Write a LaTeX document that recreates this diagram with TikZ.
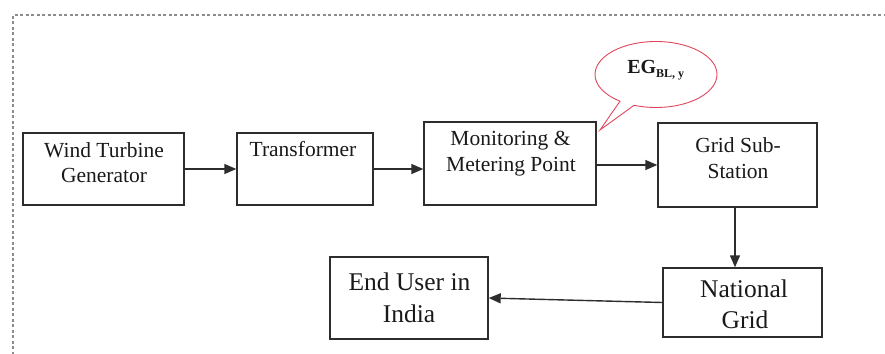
\documentclass[tikz,border=0pt]{standalone}
\usepackage{fontspec}
\setmainfont{Liberation Serif}
\newfontfamily\tnr{Liberation Serif}
\usetikzlibrary{arrows.meta,shapes.callouts}
\definecolor{boxline}{RGB}{45,45,45}
\definecolor{txt}{RGB}{25,25,25}
\definecolor{dashgray}{RGB}{140,140,140}
\definecolor{calloutred}{RGB}{225,70,90}
\tikzset{
  box/.style={draw=boxline, line width=1.4pt, fill=none, inner sep=0pt},
  lbl/.style={anchor=base, inner sep=0pt, text=txt, font=\tnr\fontsize{21.5}{25}\selectfont},
  biglbl/.style={anchor=base, inner sep=0pt, text=txt, font=\tnr\fontsize{25.5}{30}\selectfont},
  flow/.style={draw=boxline, line width=1.4pt, -{Triangle[length=12pt,width=10pt]}},
  border/.style={draw=dashgray, line width=1.1pt, dash pattern=on 3pt off 2.5pt}
}
\begin{document}
\begin{tikzpicture}[x=1pt,y=-1pt]
\useasboundingbox (0,0) rectangle (885,353);
\begin{scope}
\clip (0,0) rectangle (885,353);
\coordinate (bl) at (13,360);
\coordinate (tl) at (13,15);
\coordinate (tr0) at (890,15);
\draw[border] (bl) -- (tl) -- (tr0);
\end{scope}

% boxes
\node[box, minimum width=161pt, minimum height=72pt] (wtg) at (103.5,169) {};
\node[box, minimum width=136pt, minimum height=72pt] (tr) at (305,169) {};
\node[box, minimum width=172pt, minimum height=83pt] (mm) at (510,163.5) {};
\node[box, minimum width=159pt, minimum height=84pt] (gss) at (737.5,165) {};
\node[box, minimum width=158pt, minimum height=82pt] (eu) at (409,298) {};
\node[box, minimum width=159pt, minimum height=69pt] (ng) at (742.5,302.5) {};

% labels
\node[lbl] (wtg1) at (104,157) {Wind Turbine};
\node[lbl] (wtg2) at (104,182) {Generator};
\node[lbl] (tr1) at (303,156) {Transformer};
\node[lbl] (mm1) at (510.5,145) {Monitoring \&};
\node[lbl] (mm2) at (511,171) {Metering Point};
\node[lbl] (gss1) at (738,152) {Grid Sub-};
\node[lbl] (gss2) at (738,178) {Station};
\node[biglbl] (eu1) at (409.5,290) {End User in};
\node[biglbl] (eu2) at (409,322) {India};
\node[biglbl] (ng1) at (744,297) {National};
\node[biglbl] (ng2) at (745,328) {Grid};

% callout
\coordinate (tip) at (600,130);
\node[ellipse callout, draw=calloutred, line width=0.9pt, minimum width=122pt, minimum height=66pt,
      callout absolute pointer={(tip)}, callout pointer width=0.16] (eg) at (656,74.5) {};
\node[anchor=base, inner sep=0pt, text=txt, font=\tnr\fontsize{20}{24}\selectfont\bfseries] (egl) at (656,74)
  {EG\textsubscript{\fontsize{12}{14}\selectfont BL, y}};

% connectors
\draw[flow] (wtg.east) -- (tr.west);
\draw[flow] (tr.east) -- (tr.east -| mm.west);
\draw[flow] (mm.east |- gss.west) -- (gss.west);
\draw[flow] (gss.south -| 735,0) -- (ng.north -| 735,0);
\draw[flow] (ng.west) -- (eu.east);
\end{tikzpicture}
\end{document}
